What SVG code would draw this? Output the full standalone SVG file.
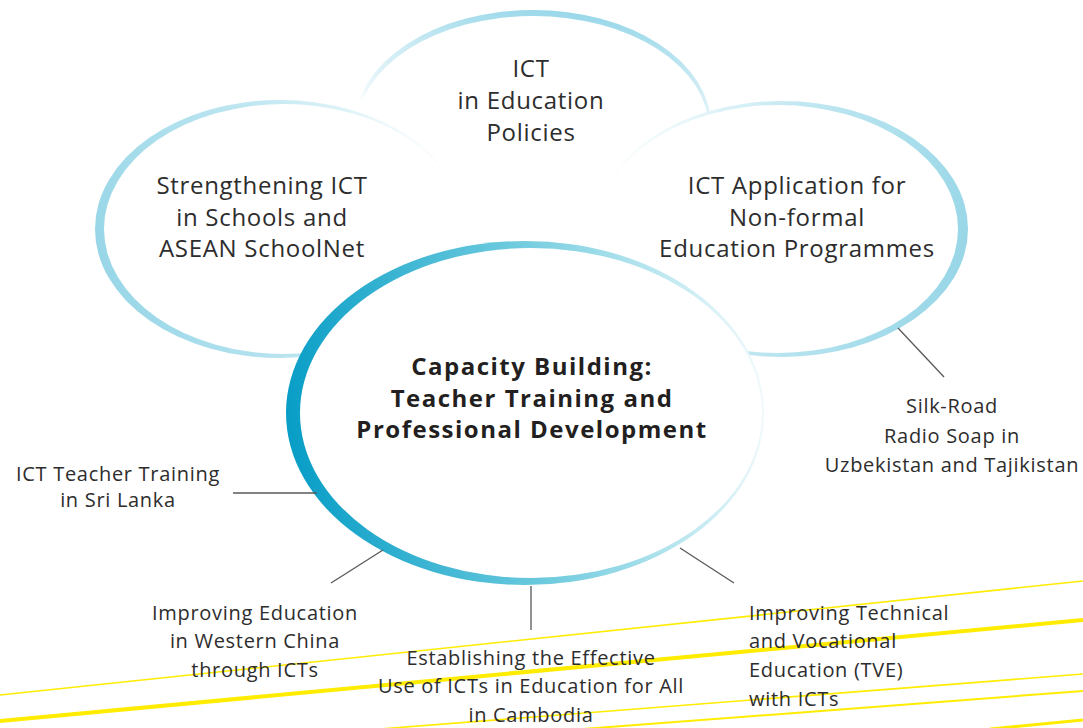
<svg xmlns="http://www.w3.org/2000/svg" width="1083" height="728" viewBox="0 0 1083 728">
  <defs>
    <!-- ring shading: dark on one side, fading to white on the other -->
    <linearGradient id="gTop" gradientUnits="userSpaceOnUse" x1="545" y1="10" x2="530" y2="125">
      <stop offset="0" stop-color="#9ad8ea"/>
      <stop offset="0.45" stop-color="#cbeaf3"/>
      <stop offset="0.85" stop-color="#eaf7fb"/>
      <stop offset="1" stop-color="#ffffff"/>
    </linearGradient>
    <linearGradient id="gLeft" gradientUnits="userSpaceOnUse" x1="95" y1="260" x2="450" y2="160">
      <stop offset="0" stop-color="#97d6e7"/>
      <stop offset="0.55" stop-color="#c2e8f2"/>
      <stop offset="1" stop-color="#ffffff"/>
    </linearGradient>
    <linearGradient id="gRight" gradientUnits="userSpaceOnUse" x1="968" y1="260" x2="610" y2="160">
      <stop offset="0" stop-color="#97d6e7"/>
      <stop offset="0.55" stop-color="#c2e8f2"/>
      <stop offset="1" stop-color="#ffffff"/>
    </linearGradient>
    <linearGradient id="gCenter" gradientUnits="userSpaceOnUse" x1="287" y1="430" x2="765" y2="380">
      <stop offset="0" stop-color="#079dc6"/>
      <stop offset="0.5" stop-color="#6ccade"/>
      <stop offset="1" stop-color="#f2fafc"/>
    </linearGradient>
    <style>
      .hole { fill: #ffffff; }
      .big { font-family: "Open Sans", "Noto Sans", "Liberation Sans", sans-serif; font-size: 24px; letter-spacing: 0.7px; fill: #2d2d2d; text-anchor: middle; }
      .bold { font-family: "Open Sans", "Noto Sans", "Liberation Sans", sans-serif; font-size: 24px; font-weight: bold; letter-spacing: 1.5px; fill: #231f20; text-anchor: middle; }
      .small { font-family: "Open Sans", "Noto Sans", "Liberation Sans", sans-serif; font-size: 20px; letter-spacing: 0.7px; fill: #2d2d2d; text-anchor: middle; }
      .start { text-anchor: start; }
      .conn { stroke: #58595b; stroke-width: 1.3; fill: none; }
      .stripe { stroke: #ffec00; fill: none; }
    </style>
  </defs>

  <rect width="1083" height="728" fill="#ffffff"/>

  <!-- yellow stripes across the bottom -->
  <g id="stripes">
    <line class="stripe" x1="0" y1="695" x2="1083" y2="581" stroke-width="1.6"/>
    <line class="stripe" x1="0" y1="721" x2="1083" y2="620" stroke-width="4"/>
    <line class="stripe" x1="380" y1="729" x2="1083" y2="674" stroke-width="1.6"/>
    <line class="stripe" x1="583" y1="729" x2="1083" y2="691" stroke-width="2"/>
    <line class="stripe" x1="990" y1="729" x2="1083" y2="720" stroke-width="3"/>
  </g>

  <!-- outer ring nodes -->
  <g id="node-policies">
    <ellipse cx="533" cy="126" rx="178" ry="116" fill="url(#gTop)"/>
    <ellipse class="hole" cx="533" cy="129" rx="176" ry="113"/>
    <text class="big" x="531" y="77">ICT</text>
    <text class="big" x="531" y="109">in Education</text>
    <text class="big" x="531" y="141">Policies</text>
  </g>

  <g id="node-schools">
    <ellipse cx="280" cy="229" rx="185" ry="129" fill="url(#gLeft)"/>
    <ellipse class="hole" cx="284" cy="229" rx="180" ry="125"/>
    <text class="big" x="262" y="194">Strengthening ICT</text>
    <text class="big" x="262" y="226">in Schools and</text>
    <text class="big" x="262" y="257">ASEAN SchoolNet</text>
  </g>

  <g id="node-nonformal">
    <ellipse cx="782" cy="229" rx="186" ry="128" fill="url(#gRight)"/>
    <ellipse class="hole" cx="778" cy="229" rx="180" ry="124"/>
    <text class="big" x="797" y="194">ICT Application for</text>
    <text class="big" x="797" y="226">Non-formal</text>
    <text class="big" x="797" y="257">Education Programmes</text>
  </g>

  <!-- central node -->
  <g id="node-capacity">
    <ellipse cx="525" cy="413" rx="239" ry="172" fill="url(#gCenter)"/>
    <ellipse class="hole" cx="531" cy="413" rx="231" ry="165"/>
    <text class="bold" x="532" y="375">Capacity Building:</text>
    <text class="bold" x="532" y="407">Teacher Training and</text>
    <text class="bold" x="532" y="438">Professional Development</text>
  </g>

  <!-- connectors -->
  <g id="connectors">
    <line class="conn" x1="898" y1="328" x2="944" y2="377"/>
    <line class="conn" x1="233" y1="493" x2="317" y2="493"/>
    <line class="conn" x1="383" y1="550" x2="331" y2="583"/>
    <line class="conn" x1="531" y1="586" x2="531" y2="630"/>
    <line class="conn" x1="680" y1="548" x2="734" y2="583"/>
  </g>

  <!-- project labels -->
  <g id="node-silkroad">
    <text class="small" x="952" y="413">Silk-Road</text>
    <text class="small" x="952" y="443">Radio Soap in</text>
    <text class="small" x="952" y="472">Uzbekistan and Tajikistan</text>
  </g>

  <g id="node-srilanka">
    <text class="small" x="118" y="481">ICT Teacher Training</text>
    <text class="small" x="118" y="507">in Sri Lanka</text>
  </g>

  <g id="node-china">
    <text class="small" x="255" y="620">Improving Education</text>
    <text class="small" x="255" y="648">in Western China</text>
    <text class="small" x="255" y="677">through ICTs</text>
  </g>

  <g id="node-cambodia">
    <text class="small" x="531" y="665">Establishing the Effective</text>
    <text class="small" x="531" y="693">Use of ICTs in Education for All</text>
    <text class="small" x="531" y="722">in Cambodia</text>
  </g>

  <g id="node-tve">
    <text class="small start" x="749" y="620">Improving Technical</text>
    <text class="small start" x="749" y="648">and Vocational</text>
    <text class="small start" x="749" y="677">Education (TVE)</text>
    <text class="small start" x="749" y="706">with ICTs</text>
  </g>
</svg>
